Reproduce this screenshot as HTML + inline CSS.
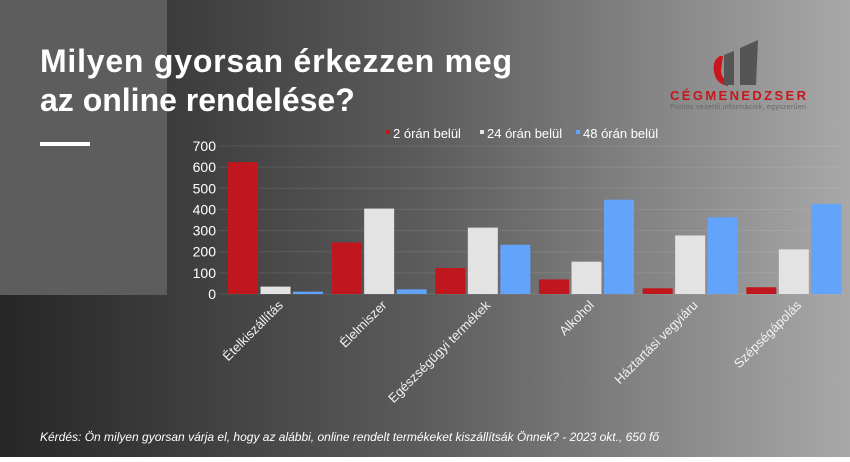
<!DOCTYPE html>
<html><head><meta charset="utf-8"><style>
html,body{margin:0;padding:0}
body{width:850px;height:457px;overflow:hidden;font-family:"Liberation Sans",sans-serif}
</style></head><body>
<svg width="850" height="457" xmlns="http://www.w3.org/2000/svg">
<defs>
<linearGradient id="bg" x1="0" y1="0" x2="1" y2="0">
<stop offset="0" stop-color="#262626"/><stop offset="0.5" stop-color="#5c5c5c"/><stop offset="1" stop-color="#a8a8a8"/></linearGradient>
</defs>
<rect width="850" height="457" fill="url(#bg)"/>
<rect x="0" y="0" width="167" height="295" fill="#5d5d5d"/>
<text x="40" y="72" fill="#fff" font-size="32" font-weight="bold" textLength="472">Milyen gyorsan érkezzen meg</text>
<text x="40" y="111" fill="#fff" font-size="32" font-weight="bold">az online rendelése?</text>
<rect x="40" y="142" width="50" height="4" fill="#fff"/>
<g>
<path d="M720 56 Q712 60 714 72 Q716 84 728 86 L728 82 Q721 78 721 70 L723 56 Z" fill="#c8161c"/>
<path d="M724 55 L734 51 L734 85 L724 85 Z" fill="#555"/>
<path d="M740 48 L758 40 L756 85 L740 85 Z" fill="#555"/>
<text x="670" y="100" fill="#c8161c" font-size="13" font-weight="bold" textLength="136">CÉGMENEDZSER</text>
<text x="670" y="109" fill="#666" font-size="7" textLength="136">Pontos vezetői információk, egyszerűen</text>
</g>
<g id="chart"></g>
<text x="40" y="441" fill="#fff" font-size="12" font-style="italic">Kérdés: Ön milyen gyorsan várja el, hogy az alábbi, online rendelt termékeket kiszállítsák Önnek?   - 2023 okt., 650  fő</text>
</svg>
<script>
const categories=["Ételkiszállítás","Élelmiszer","Egészségügyi termékek","Alkohol","Háztartási vegyiáru","Szépségápolás"];
const series2h=[624,244,123,69,27,32];
const series24h=[35,404,314,153,277,211];
const series48h=[11,22,233,446,363,426];
const seriesNames=["2 órán belül","24 órán belül","48 órán belül"];
const yTicks=[0,100,200,300,400,500,600,700];
const colors=["#c0171e","#e3e3e3","#62a3fb"];
const NS="http://www.w3.org/2000/svg";
const g=document.getElementById('chart');
const x0=218,x1=840,y0=294,yTop=146,yMax=700;
const y=v=>y0-(v/yMax)*(y0-yTop);
const gw=(x1-x0)/categories.length;
function mk(t,a){const e=document.createElementNS(NS,t);for(const k in a)e.setAttribute(k,a[k]);g.appendChild(e);return e;}
yTicks.forEach(t=>{
 const l=mk('line',{x1:x0,x2:x1,y1:y(t),y2:y(t),stroke:'rgba(255,255,255,0.1)','stroke-width':1});
 
 
 const tx=mk('text',{x:216,y:y(t)+5,fill:'#fff','font-size':14,'text-anchor':'end'});
 tx.textContent=t;
 
 
});
const all=[series2h,series24h,series48h];
categories.forEach((c,i)=>{
 const gx=x0+i*gw;
 all.forEach((s,j)=>{
  const bx=gx+10+j*32.5;
  const r=mk('rect',{x:bx,y:y(s[i]),width:30,height:y0-y(s[i]),fill:colors[j]});
  
  
 });
 const cx=gx+gw/2+14,cy=306;
 const t=mk('text',{x:cx,y:cy,fill:'#f2f2f2','font-size':13,'text-anchor':'end',transform:`rotate(-45 ${cx} ${cy})`});
 t.textContent=c;
 
 
});
const lx=[393,487,583];
seriesNames.forEach((n,j)=>{
 const s=mk('rect',{x:lx[j]-7,y:130,width:4,height:4,fill:colors[j]});
 
 
 const t=mk('text',{x:lx[j],y:138,fill:'#fff','font-size':13});
 t.textContent=n;
 
 
});
</script>
</body></html>
